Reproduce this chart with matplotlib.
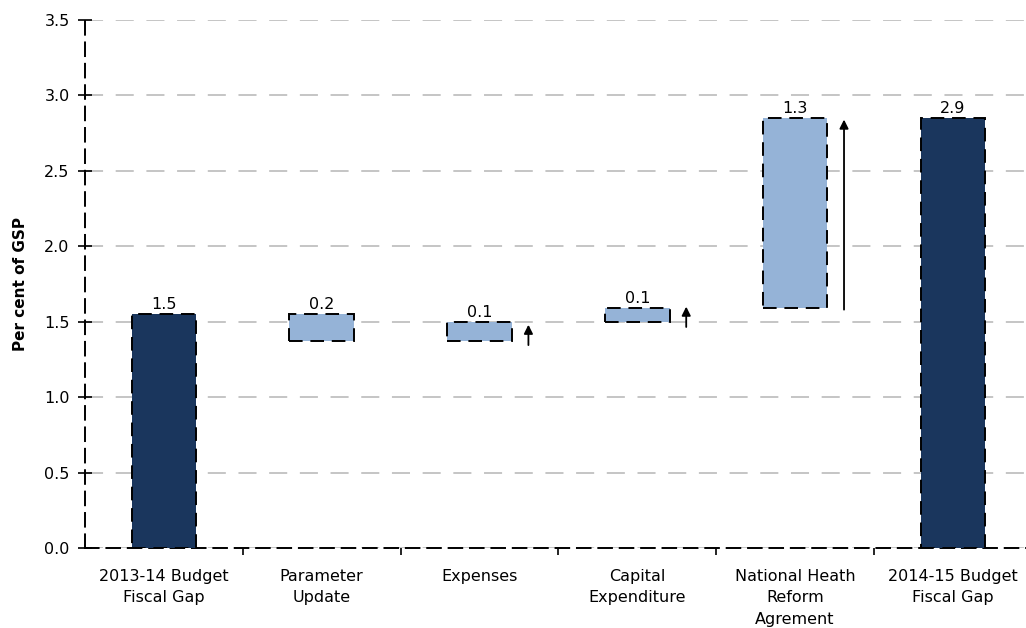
import matplotlib.pyplot as plt

plt.rcParams['font.family'] = ['DejaVu Sans']

# data
categories = ['2013-14 Budget\nFiscal Gap', 'Parameter\nUpdate', 'Expenses',
              'Capital\nExpenditure', 'National Heath\nReform\nAgrement',
              '2014-15 Budget\nFiscal Gap']
bottoms = [0.0, 1.37, 1.37, 1.50, 1.59, 0.0]
tops = [1.55, 1.55, 1.50, 1.59, 2.85, 2.85]
labels = ['1.5', '0.2', '0.1', '0.1', '1.3', '2.9']
kinds = ['total', 'step', 'step', 'step', 'step', 'total']
arrow_from = [None, None, 1.345, 1.465, 1.58, None]
arrow_to = [None, None, 1.48, 1.60, 2.84, None]

dark = '#1a365d'
light = '#95b3d7'

fig = plt.figure(figsize=(10.26, 6.28), dpi=100)
ax = fig.add_axes([85 / 1026, 1 - 548 / 628, 6 * 157.8 / 1026, 528 / 628])

x = list(range(len(categories)))
heights = [t - b for t, b in zip(tops, bottoms)]
colors = [dark if k == 'total' else light for k in kinds]
ax.bar(x, heights, bottom=bottoms, width=0.41, color=colors,
       edgecolor='black', linestyle=(0, (7, 4)), linewidth=1.4, zorder=3)

for i in x:
    ax.text(i, tops[i] + 0.012, labels[i], ha='center', va='bottom', fontsize=11.5)
    if arrow_from[i] is not None:
        ax.annotate('', xy=(i + 0.31, arrow_to[i]), xytext=(i + 0.31, arrow_from[i]),
                    arrowprops=dict(arrowstyle='-|>', color='black', lw=1.3,
                                    mutation_scale=13, shrinkA=0, shrinkB=0),
                    zorder=4)

ax.set_ylim(0, 3.5)
ax.set_xlim(-0.5, 5.5)
ax.set_yticks([0, 0.5, 1.0, 1.5, 2.0, 2.5, 3.0, 3.5])
ax.set_yticklabels(['0.0', '0.5', '1.0', '1.5', '2.0', '2.5', '3.0', '3.5'], fontsize=11.5)
ax.yaxis.grid(True, color='#c0c0c0', linestyle=(0, (10, 7)), linewidth=1.3, zorder=0)
ax.set_axisbelow(True)

ax.set_xticks([i + 0.5 for i in x[:-1]], minor=False)
ax.set_xticklabels([])
ax.set_xticks(x, minor=True)
ax.set_xticklabels(categories, minor=True, fontsize=11.5, linespacing=1.55)
ax.tick_params(axis='x', which='minor', length=0, pad=15)
ax.tick_params(axis='x', which='major', length=5, width=1.2, direction='out')
ax.tick_params(axis='y', length=10, width=1.2, direction='inout', pad=6)

for s in ['top', 'right']:
    ax.spines[s].set_visible(False)
for s in ['left', 'bottom']:
    ax.spines[s].set_linestyle((0, (7, 4)))
    ax.spines[s].set_linewidth(1.4)

ax.set_ylabel('Per cent of GSP', fontsize=11, fontweight='bold', labelpad=12)

fig.savefig('out.png', dpi=100)
